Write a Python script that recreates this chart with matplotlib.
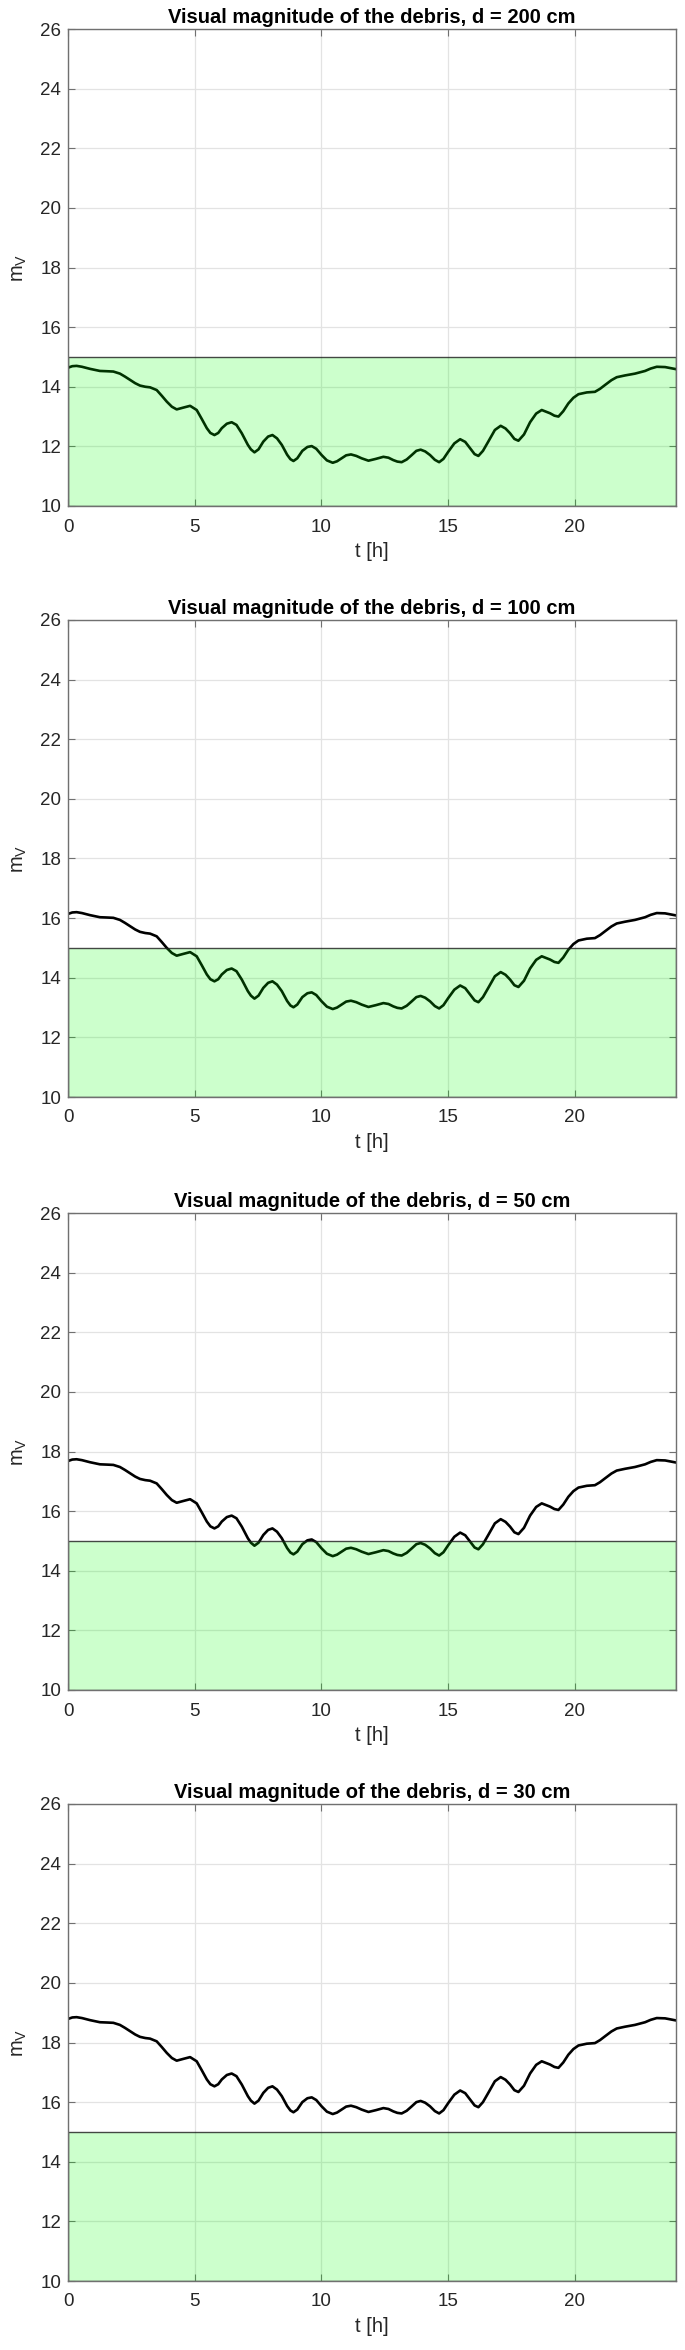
import matplotlib
matplotlib.use("Agg")
import matplotlib.pyplot as plt

plt.rcParams['font.family'] = ['Liberation Sans', 'DejaVu Sans']
plt.rcParams['mathtext.fontset'] = 'custom'
plt.rcParams['mathtext.rm'] = 'Liberation Sans'
plt.rcParams['mathtext.it'] = 'Liberation Sans'

# ---------------- data ----------------
t_h = [0.00, 0.17, 0.34, 0.55, 0.87, 1.26, 1.55, 1.79, 2.05, 2.25,
       2.45, 2.65, 2.84, 3.05, 3.24, 3.50, 3.70, 3.90, 4.10, 4.29,
       4.55, 4.82, 5.08, 5.28, 5.48, 5.62, 5.78, 5.93, 6.07, 6.27,
       6.46, 6.65, 6.86, 7.10, 7.22, 7.36, 7.52, 7.71, 7.90, 8.07,
       8.25, 8.44, 8.65, 8.78, 8.90, 9.05, 9.25, 9.45, 9.62, 9.80,
       10.01, 10.22, 10.45, 10.62, 10.80, 10.98, 11.17, 11.38, 11.59, 11.86,
       12.15, 12.45, 12.65, 12.84, 13.00, 13.17, 13.37, 13.57, 13.75, 13.92,
       14.10, 14.29, 14.48, 14.65, 14.82, 15.01, 15.25, 15.48, 15.68, 15.87,
       16.05, 16.20, 16.38, 16.59, 16.85, 17.08, 17.27, 17.45, 17.62, 17.78,
       18.00, 18.24, 18.48, 18.70, 19.03, 19.20, 19.36, 19.55, 19.75, 19.95,
       20.15, 20.48, 20.80, 21.00, 21.20, 21.45, 21.66, 21.99, 22.38, 22.78,
       23.00, 23.24, 23.57, 24.00]

mv_200 = [14.64, 14.69, 14.70, 14.67, 14.60, 14.53, 14.52, 14.51, 14.44, 14.34,
          14.23, 14.12, 14.04, 14.00, 13.98, 13.89, 13.70, 13.50, 13.33, 13.24,
          13.30, 13.36, 13.22, 12.92, 12.61, 12.45, 12.38, 12.45, 12.61, 12.76,
          12.81, 12.72, 12.44, 12.05, 11.90, 11.80, 11.90, 12.16, 12.33, 12.38,
          12.27, 12.05, 11.72, 11.57, 11.51, 11.60, 11.85, 11.98, 12.01, 11.92,
          11.71, 11.53, 11.45, 11.50, 11.60, 11.70, 11.73, 11.68, 11.60, 11.52,
          11.58, 11.65, 11.62, 11.54, 11.49, 11.47, 11.56, 11.71, 11.85, 11.89,
          11.83, 11.71, 11.55, 11.47, 11.58, 11.82, 12.10, 12.24, 12.15, 11.94,
          11.74, 11.68, 11.85, 12.16, 12.55, 12.69, 12.60, 12.44, 12.25, 12.19,
          12.40, 12.81, 13.10, 13.22, 13.11, 13.03, 13.00, 13.18, 13.44, 13.63,
          13.75, 13.81, 13.83, 13.93, 14.06, 14.22, 14.32, 14.38, 14.44, 14.53,
          14.61, 14.67, 14.66, 14.59]

mv_100 = [16.14, 16.19, 16.20, 16.17, 16.10, 16.03, 16.02, 16.01, 15.94, 15.84,
          15.73, 15.62, 15.54, 15.50, 15.48, 15.39, 15.20, 15.00, 14.83, 14.74,
          14.80, 14.86, 14.72, 14.42, 14.11, 13.95, 13.88, 13.95, 14.11, 14.26,
          14.31, 14.22, 13.94, 13.55, 13.40, 13.30, 13.40, 13.66, 13.83, 13.88,
          13.77, 13.55, 13.22, 13.07, 13.01, 13.10, 13.35, 13.48, 13.51, 13.42,
          13.21, 13.03, 12.95, 13.00, 13.10, 13.20, 13.23, 13.18, 13.10, 13.02,
          13.08, 13.15, 13.12, 13.04, 12.99, 12.97, 13.06, 13.21, 13.35, 13.39,
          13.33, 13.21, 13.05, 12.97, 13.08, 13.32, 13.60, 13.74, 13.65, 13.44,
          13.24, 13.18, 13.35, 13.66, 14.05, 14.19, 14.10, 13.94, 13.75, 13.69,
          13.90, 14.31, 14.60, 14.72, 14.61, 14.53, 14.50, 14.68, 14.94, 15.13,
          15.25, 15.31, 15.33, 15.43, 15.56, 15.72, 15.82, 15.88, 15.94, 16.03,
          16.11, 16.17, 16.16, 16.09]

mv_50 = [17.68, 17.73, 17.74, 17.71, 17.64, 17.57, 17.56, 17.55, 17.48, 17.38,
         17.27, 17.16, 17.08, 17.04, 17.02, 16.93, 16.74, 16.54, 16.37, 16.28,
         16.34, 16.40, 16.26, 15.96, 15.65, 15.49, 15.42, 15.49, 15.65, 15.80,
         15.85, 15.76, 15.48, 15.09, 14.94, 14.84, 14.94, 15.20, 15.37, 15.42,
         15.31, 15.09, 14.76, 14.61, 14.55, 14.64, 14.89, 15.02, 15.05, 14.96,
         14.75, 14.57, 14.49, 14.54, 14.64, 14.74, 14.77, 14.72, 14.64, 14.56,
         14.62, 14.69, 14.66, 14.58, 14.53, 14.51, 14.60, 14.75, 14.89, 14.93,
         14.87, 14.75, 14.59, 14.51, 14.62, 14.86, 15.14, 15.28, 15.19, 14.98,
         14.78, 14.72, 14.89, 15.20, 15.59, 15.73, 15.64, 15.48, 15.29, 15.23,
         15.44, 15.85, 16.14, 16.26, 16.15, 16.07, 16.04, 16.22, 16.48, 16.67,
         16.79, 16.85, 16.87, 16.97, 17.10, 17.26, 17.36, 17.42, 17.48, 17.57,
         17.65, 17.71, 17.70, 17.63]

mv_30 = [18.79, 18.84, 18.85, 18.82, 18.75, 18.68, 18.67, 18.66, 18.59, 18.49,
         18.38, 18.27, 18.19, 18.15, 18.13, 18.04, 17.85, 17.65, 17.48, 17.39,
         17.45, 17.51, 17.37, 17.07, 16.76, 16.60, 16.53, 16.60, 16.76, 16.91,
         16.96, 16.87, 16.59, 16.20, 16.05, 15.95, 16.05, 16.31, 16.48, 16.53,
         16.42, 16.20, 15.87, 15.72, 15.66, 15.75, 16.00, 16.13, 16.16, 16.07,
         15.86, 15.68, 15.60, 15.65, 15.75, 15.85, 15.88, 15.83, 15.75, 15.67,
         15.73, 15.80, 15.77, 15.69, 15.64, 15.62, 15.71, 15.86, 16.00, 16.04,
         15.98, 15.86, 15.70, 15.62, 15.73, 15.97, 16.25, 16.39, 16.30, 16.09,
         15.89, 15.83, 16.00, 16.31, 16.70, 16.84, 16.75, 16.59, 16.40, 16.34,
         16.55, 16.96, 17.25, 17.37, 17.26, 17.18, 17.15, 17.33, 17.59, 17.78,
         17.90, 17.96, 17.98, 18.08, 18.21, 18.37, 18.47, 18.53, 18.59, 18.68,
         18.76, 18.82, 18.81, 18.74]

diameters_cm = [200, 100, 50, 30]
series = [mv_200, mv_100, mv_50, mv_30]
visible_limit = 15
y_min, y_max = 10, 26
t_min, t_max = 0, 24
x_ticks = [0, 5, 10, 15, 20]
y_ticks = [10, 12, 14, 16, 18, 20, 22, 24, 26]

# ---------------- layout ----------------
W, H = 685, 2350
fig = plt.figure(figsize=(W / 100, H / 100), dpi=100)
left_px, right_px = 68, 676
tops_px = [29, 620, 1213, 1804]
ax_h_px = 477

frame_col = '#707070'
text_col = '#262626'

for d, mv, top in zip(diameters_cm, series, tops_px):
    ax = fig.add_axes([left_px / W, 1 - (top + ax_h_px) / H,
                       (right_px - left_px) / W, ax_h_px / H])
    ax.plot(t_h, mv, color='black', lw=1.9, zorder=2,
            solid_joinstyle='round', solid_capstyle='round')
    ax.fill_between([t_min, t_max], y_min, visible_limit,
                    facecolor=(0, 1, 0, 0.2), edgecolor=(0.1, 0.1, 0.1, 0.8),
                    linewidth=1.0, zorder=3)
    ax.set_xlim(t_min, t_max)
    ax.set_ylim(y_min, y_max)
    ax.set_xticks(x_ticks)
    ax.set_yticks(y_ticks)
    ax.grid(True, color='#e3e3e3', linewidth=0.9, zorder=0)
    ax.set_axisbelow(True)
    ax.tick_params(direction='in', length=5, width=0.8, color=frame_col,
                   labelsize=13.5, labelcolor=text_col, top=True, right=True)
    ax.tick_params(axis='x', pad=9)
    ax.tick_params(axis='y', pad=5)
    for s in ax.spines.values():
        s.set_color(frame_col)
        s.set_linewidth(1.0)
        s.set_zorder(4)
    ax.set_title(f'Visual magnitude of the debris, d = {d} cm',
                 fontsize=14.5, fontweight='bold', color='black', pad=4)
    ax.set_xlabel('t [h]', fontsize=14.5, color=text_col, labelpad=5)
    ax.set_ylabel(r'm$_\mathrm{V}$', fontsize=14.5, color=text_col, labelpad=8)

fig.savefig('out.png', dpi=100, facecolor='white')
